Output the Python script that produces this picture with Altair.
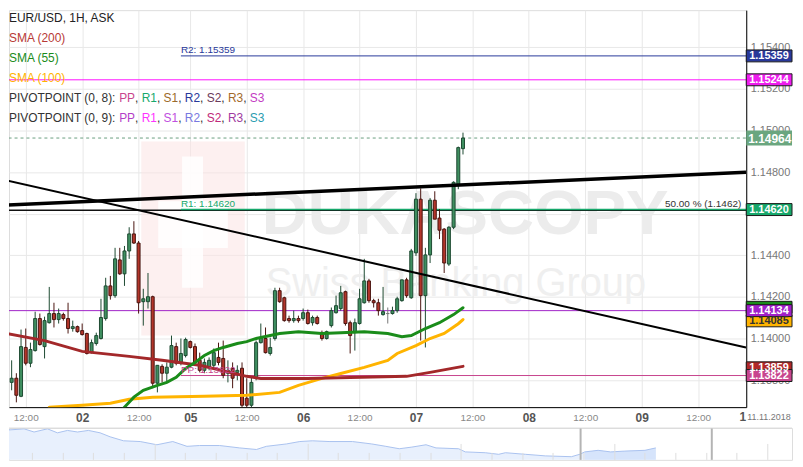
import altair as alt
import pandas as pd

# ---------------- data (trading-hour index: 0 = 01 Nov 12:00) ----------------
HOURS = list(range(-4, 94))
OPEN = [1.13655,1.13789,1.13809,1.13722,1.13957,1.13881,1.13942,1.14096,1.13961,1.14076,
        1.14120,1.14091,1.14115,1.14096,1.14048,1.14057,1.14038,1.14024,1.13932,1.13976,
        1.14000,1.14096,1.14253,1.14206,1.14378,1.14311,1.14421,1.14503,1.14459,1.14177,
        1.14177,1.14201,1.13785,1.13866,1.13833,1.13862,1.13961,1.13885,1.13918,1.13985,
        1.13961,1.13895,1.13847,1.13862,1.13871,1.13909,1.13904,1.13833,1.13857,1.13837,
        1.13857,1.13713,1.13679,1.13809,1.13980,1.14000,1.13928,1.14000,1.14230,1.14196,
        1.14096,1.14086,1.14096,1.14096,1.14124,1.14076,1.14101,1.14028,1.14000,1.14062,
        1.14124,1.14144,1.14225,1.14076,1.14028,1.14072,1.14172,1.14277,1.14182,1.14172,
        1.14115,1.14120,1.14120,1.14134,1.14182,1.14282,1.14196,1.14412,1.14670,1.14206,
        1.14402,1.14665,1.14579,1.14526,1.14358,1.14535,1.14742,1.14913]
HIGH = [1.13809,1.13895,1.13833,1.14043,1.14048,1.13980,1.14129,1.14120,1.14105,1.14248,
        1.14172,1.14144,1.14124,1.14172,1.14086,1.14062,1.14072,1.14028,1.13995,1.14028,
        1.14191,1.14292,1.14301,1.14436,1.14436,1.14445,1.14535,1.14564,1.14469,1.14239,
        1.14315,1.14206,1.13871,1.13876,1.13885,1.14014,1.13980,1.14000,1.14004,1.13990,
        1.13976,1.13932,1.13904,1.13909,1.13952,1.13980,1.13990,1.13895,1.13885,1.13871,
        1.13885,1.13809,1.13813,1.13990,1.14072,1.14053,1.14004,1.14244,1.14244,1.14201,
        1.14110,1.14134,1.14110,1.14144,1.14139,1.14110,1.14110,1.14038,1.14038,1.14149,
        1.14206,1.14253,1.14230,1.14086,1.14096,1.14239,1.14383,1.14287,1.14191,1.14191,
        1.14248,1.14149,1.14153,1.14201,1.14282,1.14292,1.14431,1.14699,1.14722,1.14436,
        1.14675,1.14708,1.14622,1.14531,1.14540,1.14756,1.14923,1.14990]
LOW = [1.13631,1.13751,1.13693,1.13718,1.13871,1.13862,1.13937,1.13966,1.13904,1.14072,
       1.14053,1.14072,1.14086,1.14024,1.14033,1.14028,1.14014,1.13923,1.13928,1.13966,
       1.13995,1.14086,1.14187,1.14196,1.14306,1.14253,1.14383,1.14455,1.14120,1.14062,
       1.14144,1.13761,1.13741,1.13789,1.13794,1.13857,1.13871,1.13871,1.13909,1.13952,
       1.13871,1.13837,1.13833,1.13847,1.13857,1.13871,1.13809,1.13789,1.13761,1.13799,
       1.13655,1.13665,1.13665,1.13799,1.13976,1.13928,1.13918,1.13990,1.14172,1.14081,
       1.14076,1.14076,1.14076,1.14086,1.14067,1.14062,1.14067,1.13990,1.13995,1.14053,
       1.14120,1.14134,1.14062,1.13928,1.13942,1.14067,1.14168,1.14172,1.14149,1.14110,
       1.14110,1.14072,1.14115,1.14124,1.14177,1.14196,1.14191,1.14397,1.13990,1.13957,
       1.14363,1.14574,1.14478,1.14315,1.14349,1.14526,1.14718,1.14885]
CLOSE = [1.13789,1.13809,1.13727,1.13961,1.13881,1.13947,1.14096,1.13971,1.14086,1.14120,
         1.14091,1.14120,1.14096,1.14048,1.14057,1.14033,1.14019,1.13928,1.13980,1.14014,
         1.14101,1.14253,1.14206,1.14383,1.14311,1.14421,1.14503,1.14459,1.14172,1.14191,
         1.14201,1.13785,1.13871,1.13833,1.13862,1.13966,1.13881,1.13928,1.13995,1.13957,
         1.13885,1.13847,1.13885,1.13895,1.13932,1.13885,1.13823,1.13847,1.13809,1.13847,
         1.13679,1.13679,1.13789,1.13980,1.14004,1.13932,1.13957,1.14230,1.14177,1.14086,
         1.14086,1.14096,1.14086,1.14124,1.14072,1.14101,1.14072,1.14000,1.14033,1.14134,
         1.14158,1.14220,1.14072,1.14014,1.14076,1.14191,1.14277,1.14182,1.14172,1.14134,
         1.14129,1.14120,1.14134,1.14191,1.14282,1.14206,1.14421,1.14670,1.14206,1.14402,
         1.14665,1.14574,1.14521,1.14363,1.14535,1.14751,1.14918,1.14964]

SMA200_T = [-4, 4, 12, 22, 29, 37, 47, 50, 60, 69, 81, 86, 93]
SMA200_V = [1.14024, 1.13990, 1.13938, 1.13914, 1.13895, 1.13871, 1.13818, 1.13808,
            1.13808, 1.13813, 1.13818, 1.13837, 1.13866]
SMA55_T = [19, 21, 23, 25, 28, 30, 32, 34, 36, 38, 40, 42, 45, 47, 49, 54, 58, 63, 67,
           72, 77, 80, 82, 85, 88, 91, 93]
SMA55_V = [1.13620, 1.13670, 1.13718, 1.13751, 1.13775, 1.13789, 1.13813, 1.13856,
           1.13885, 1.13918, 1.13942, 1.13957, 1.13976, 1.13985, 1.14000, 1.14024,
           1.14033, 1.14024, 1.14028, 1.14033, 1.14024, 1.14009, 1.14014, 1.14048,
           1.14076, 1.14115, 1.14148]
SMA100_T = [5, 12, 18, 22, 27, 38, 47, 54, 58, 63, 67, 72, 77, 79, 83, 86, 89, 92, 93]
SMA100_V = [1.13670, 1.13679, 1.13689, 1.13708, 1.13717, 1.13722, 1.13727, 1.13741,
            1.13775, 1.13808, 1.13832, 1.13861, 1.13895, 1.13928, 1.13966, 1.14000,
            1.14024, 1.14071, 1.14091]

TREND_T = [-4.2, 153.2]
TREND_THICK = [1.14641, 1.14799]
TREND_THIN = [1.14761, 1.13957]

LEVEL_P = [1.15359, 1.15244, 1.14617, 1.14620, 1.14134, 1.13822]
LEVEL_START = [33, -10, -10, 33, -10, 33]
LEVEL_COLOR = ['#28389a', '#ff10ff', '#111111', '#17a86b', '#a024c8', '#c8458e']
LEVEL_WIDTH = [1, 1, 1.5, 1.5, 1, 1]
LAST_PRICE = 1.14964

PIV_TEXT = ['R2: 1.15359', 'R1: 1.14620', 'PP: 1.13822']
PIV_P = [1.15359, 1.14620, 1.13822]
PIV_T = [33, 33, 33]
PIV_COLOR = ['#28389a', '#17a86b', '#c8458e']
FIB_TEXT = '50.00 % (1.1462)'
FIB_P = 1.14617

BADGE_P = [1.15359, 1.15244, 1.14620, 1.14150, 1.14085, 1.14134, 1.13859, 1.13822]
BADGE_TEXT = ['1.15359', '1.15244', '1.14620', '', '1.14085', '1.14134', '1.13859', '1.13822']
BADGE_FILL = ['#28389a', '#ee1cee', '#17a86b', '#1a8c1a', '#ffb400', '#a020c8', '#b0282a', '#c8458e']
BADGE_TC = ['#ffffff', '#ffffff', '#ffffff', '#ffffff', '#333333', '#ffffff', '#ffffff', '#ffffff']

XTICKS = [0, 12, 24, 35, 47, 59, 71, 83, 95, 107, 119, 131, 143]
XLABELS = ['12:00', '02', '12:00', '05', '12:00', '06', '12:00', '07', '12:00', '08',
           '12:00', '09', '12:00']
DAY_TICKS = [12, 35, 59, 83, 107, 131]
YTICKS = [1.138, 1.140, 1.142, 1.144, 1.146, 1.148, 1.150, 1.152, 1.154]
Y_HIDDEN = [1.146]

NAV_T = [-698, -682, -670, -658, -642, -630, -618, -606, -593, -579, -567, -551, -531,
         -511, -492, -475, -460, -436, -412, -392, -380, -356, -340, -325, -305, -277,
         -254, -237, -221, -206, -189, -177, -150, -142, -118, -102, -94, -70, -46, -15,
         -5, 1, 17, 32, 49, 73, 86]
NAV_P = [1.1755, 1.1768, 1.1780, 1.1730, 1.1780, 1.1717, 1.1755, 1.1730, 1.1755, 1.1717,
         1.1654, 1.1591, 1.1579, 1.1528, 1.1579, 1.1503, 1.1516, 1.1516, 1.1478, 1.1453,
         1.1503, 1.1541, 1.1579, 1.1591, 1.1579, 1.1579, 1.1541, 1.1503, 1.1465, 1.1491,
         1.1528, 1.1478, 1.1465, 1.1415, 1.1402, 1.1377, 1.1402, 1.1377, 1.1352, 1.1339,
         1.1377, 1.1415, 1.1440, 1.1415, 1.1428, 1.1440, 1.1478]
NAV_TICKS = [-660, -623, -587, -550, -513, -477, -440, -403, -367, -330, -294, -257, -220,
             -183, -147, -110, -73, -37, 0, 37, 73, 110, 147, 183, 220]
NAV_TALL = [-513, -330, -147, 37, 220]
NAV_WINDOW = [-4, 153]

# ---------------- layout ----------------
W, H = 741, 399
BW = 46                      # badge width
FONT = 'Liberation Sans'
xs = alt.Scale(domain=[-2.505, 152.19], nice=False, zero=False)
ys = alt.Scale(domain=[1.13670, 1.15579], nice=False, zero=False)

label_expr = ' : '.join(f"datum.value == {v} ? '{l}'" for v, l in zip(XTICKS, XLABELS)) + " : ''"
day_test = 'indexof([' + ','.join(str(d) for d in DAY_TICKS) + '], datum.value) >= 0'
y_expr = ' || '.join(f'abs(datum.value - {v}) < 1e-7' for v in Y_HIDDEN) + " ? '' : format(datum.value, '.5f')"

xaxis = alt.Axis(values=XTICKS, labelExpr=label_expr, title=None, grid=True,
                 gridColor='#e8e8e8', ticks=False, domainColor='#000000', labelPadding=5,
                 labelOverlap=False, labelFlush=False,
                 labelFontSize={"condition": {"test": day_test, "value": 12}, "value": 10},
                 labelFontWeight={"condition": {"test": day_test, "value": "bold"}, "value": "normal"},
                 labelColor={"condition": {"test": day_test, "value": "#555555"}, "value": "#888888"})
yaxis = alt.Axis(orient='right', values=YTICKS, labelExpr=y_expr, title=None, grid=True,
                 gridColor='#e8e8e8', ticks=False, domainColor='#000000', labelColor='#777777',
                 labelFontSize=11, labelPadding=4, labelOverlap=False)


def X(f):
    return alt.X(f, type='quantitative', scale=xs, axis=xaxis)


def Y(f):
    return alt.Y(f, type='quantitative', scale=ys, axis=yaxis)


one = pd.DataFrame({'a': [0]})

# watermark
wm_rect = pd.DataFrame({
    'x': [133, 150, 174], 'x2': [237, 220, 195],
    'y': [132, 192, 147], 'y2': [327, 239, 279],
    'c': ['#fbe3e3', '#ffffff', '#ffffff'], 'o': [0.55, 0.85, 0.85]})
watermark_box = alt.Chart(wm_rect).mark_rect().encode(
    x=alt.X('x:Q', scale=None), x2='x2', y=alt.Y('y:Q', scale=None), y2='y2',
    fill=alt.Fill('c:N', scale=None), opacity=alt.Opacity('o:Q', scale=None))
wm_text = pd.DataFrame({'txt': ['DUKASCOPY', 'Swiss Banking Group'], 'x': [254, 258],
                        'y': [225, 287]})
watermark_t1 = alt.Chart(wm_text.iloc[[0]]).mark_text(
    align='left', baseline='alphabetic', fontSize=64, fontWeight='bold', color='#ececec',
    font=FONT).encode(x=alt.X('x:Q', scale=None), y=alt.Y('y:Q', scale=None), text='txt:N')
watermark_t2 = alt.Chart(wm_text.iloc[[1]]).mark_text(
    align='left', baseline='alphabetic', fontSize=40, color='#efefef',
    font=FONT).encode(x=alt.X('x:Q', scale=None), y=alt.Y('y:Q', scale=None), text='txt:N')

# pivot / level lines
lv = pd.DataFrame({'p': LEVEL_P, 's': LEVEL_START, 'e': [170] * len(LEVEL_P),
                   'c': LEVEL_COLOR, 'w': LEVEL_WIDTH})
levels = alt.Chart(lv).mark_rule(clip=True).encode(
    x=X('s'), x2='e', y=Y('p'), stroke=alt.Stroke('c:N', scale=None),
    strokeWidth=alt.StrokeWidth('w:Q', scale=None))
last = alt.Chart(pd.DataFrame({'p': [LAST_PRICE], 's': [-10], 'e': [170]})).mark_rule(
    clip=True, color='#6a9e80', strokeDash=[3, 3], strokeWidth=1).encode(
    x=X('s'), x2='e', y=Y('p'))

# candles
cdf = pd.DataFrame({'t': HOURS, 'o': OPEN, 'h': HIGH, 'l': LOW, 'c': CLOSE})
cdf['fill'] = ['#3f8f60' if c > o else ('#b3352a' if c < o else '#999999')
               for o, c in zip(OPEN, CLOSE)]
cdf['line'] = ['#1d4a31' if c > o else ('#4a140f' if c < o else '#777777')
               for o, c in zip(OPEN, CLOSE)]
wicks = alt.Chart(cdf).mark_rule(strokeWidth=1, clip=True).encode(
    x=X('t'), y=Y('l'), y2='h', stroke=alt.Stroke('line:N', scale=None))
bodies = alt.Chart(cdf).mark_bar(size=3, strokeWidth=1, clip=True).encode(
    x=X('t'), y=Y('o'), y2='c', fill=alt.Fill('fill:N', scale=None),
    stroke=alt.Stroke('line:N', scale=None))

# moving averages
sma = pd.concat([
    pd.DataFrame({'t': SMA100_T, 'p': SMA100_V, 's': 'SMA100', 'c': '#ffb400'}),
    pd.DataFrame({'t': SMA200_T, 'p': SMA200_V, 's': 'SMA200', 'c': '#a3282a'}),
    pd.DataFrame({'t': SMA55_T, 'p': SMA55_V, 's': 'SMA55', 'c': '#1a8c1a'}),
])
smas = alt.Chart(sma).mark_line(strokeWidth=3, clip=True, strokeCap='round').encode(
    x=X('t'), y=Y('p'), detail='s:N', stroke=alt.Stroke('c:N', scale=None))

# trend lines
tl = pd.DataFrame({'t': TREND_T * 2, 'p': TREND_THICK + TREND_THIN,
                   'id': ['a', 'a', 'b', 'b'], 'w': [3.5, 3.5, 2, 2]})
trends = alt.Chart(tl).mark_line(color='#000000', clip=True).encode(
    x=X('t'), y=Y('p'), detail='id:N', strokeWidth=alt.StrokeWidth('w:Q', scale=None))

# level labels
pl = pd.DataFrame({'t': PIV_T, 'p': PIV_P, 'txt': PIV_TEXT, 'c': PIV_COLOR})
piv_labels = alt.Chart(pl).mark_text(align='left', baseline='alphabetic', dy=-3, fontSize=10,
                                     font=FONT).encode(
    x=X('t'), y=Y('p'), text='txt:N', color=alt.Color('c:N', scale=None))
fib_label = alt.Chart(pd.DataFrame({'p': [FIB_P], 'txt': [FIB_TEXT]})).mark_text(
    align='right', baseline='alphabetic', dy=-3, fontSize=10, color='#333333', font=FONT).encode(
    x=alt.value(W - 5), y=Y('p'), text='txt:N')

# legend text (top-left)
ARIAL = {' ': 278, '(': 333, ')': 333, ',': 278, ':': 278, '/': 278, 'P': 667, 'I': 278,
         'V': 667, 'O': 778, 'T': 611, 'N': 722, 'R': 722, 'S': 667}
for d in '0123456789':
    ARIAL[d] = 556


def tw(s, size=12):
    return sum(ARIAL.get(ch, 600) for ch in s) * size / 1000.0


rows = [
    ('EUR/USD, 1H, ASK', 0, 12, '#222222'),
    ('SMA (200)', 0, 32, '#b83a36'),
    ('SMA (55)', 0, 52, '#1a8c1a'),
    ('SMA (100)', 0, 72, '#ffb400'),
]
piv_sets = [
    ('PIVOTPOINT (0, 8): ', 92, ['#c8458e', '#17a86b', '#9c6b2a', '#28389a', '#6b3b5b', '#a36a2a', '#c33cc3']),
    ('PIVOTPOINT (0, 9): ', 112, ['#b33fc8', '#ff33ff', '#c050e0', '#7878e0', '#c02a7a', '#a03ca0', '#2a9cb0']),
]
names = ['PP', 'R1', 'S1', 'R2', 'S2', 'R3', 'S3']
for head, yy, cols in piv_sets:
    x = 0.0
    rows.append((head.strip(), x, yy, '#333333'))
    x += tw(head)
    for i, (nm, col) in enumerate(zip(names, cols)):
        rows.append((nm, x, yy, col))
        x += tw(nm)
        if i < len(names) - 1:
            rows.append((',', x, yy, '#333333'))
            x += tw(', ')
leg = pd.DataFrame(rows, columns=['txt', 'x', 'y', 'c'])
legend = alt.Chart(leg).mark_text(align='left', baseline='alphabetic', fontSize=12,
                                  font=FONT).encode(
    x=alt.X('x:Q', scale=None), y=alt.Y('y:Q', scale=None), text='txt:N',
    color=alt.Color('c:N', scale=None))

# price badges on the right axis
half = BW / 2.0
bd = pd.DataFrame({'p': BADGE_P, 'txt': BADGE_TEXT, 'f': BADGE_FILL, 'tc': BADGE_TC})
RECT = f'M-1,-{6 / half:.4f}L1,-{6 / half:.4f}L1,{6 / half:.4f}L-1,{6 / half:.4f}Z'
RECT_BIG = f'M-1,-{7.5 / half:.4f}L1,-{7.5 / half:.4f}L1,{7.5 / half:.4f}L-1,{7.5 / half:.4f}Z'
badge_box = alt.Chart(bd).mark_point(shape=RECT, size=BW * BW, filled=True, opacity=1,
                                     stroke='#1a1a1a', strokeWidth=1).encode(
    x=alt.value(W + half), y=Y('p'), fill=alt.Fill('f:N', scale=None))
badge_txt = alt.Chart(bd).mark_text(align='left', baseline='middle', fontSize=11,
                                    fontWeight='bold', font=FONT, dy=0.5).encode(
    x=alt.value(W + 3), y=Y('p'), text='txt:N', color=alt.Color('tc:N', scale=None))
lastb = pd.DataFrame({'p': [LAST_PRICE], 'txt': ['1.14964']})
last_box = alt.Chart(lastb).mark_point(shape=RECT_BIG, size=BW * BW, filled=True, opacity=1,
                                       color='#6aa67f').encode(
    x=alt.value(W + half), y=Y('p'))
last_txt = alt.Chart(lastb).mark_text(align='left', baseline='middle', fontSize=12,
                                      fontWeight='bold', color='#ffffff', font=FONT, dy=0.5).encode(
    x=alt.value(W + 2), y=Y('p'), text='txt:N')

date_txt = alt.Chart(pd.DataFrame({'txt': ['11.11.2018']})).mark_text(
    align='left', baseline='top', fontSize=9, color='#777777', font=FONT).encode(
    x=alt.value(W + 1), y=alt.value(H + 6), text='txt:N')
cut_txt = alt.Chart(pd.DataFrame({'txt': ['1']})).mark_text(
    align='right', baseline='top', fontSize=12, fontWeight='bold', color='#555555',
    font=FONT).encode(x=alt.value(W), y=alt.value(H + 5), text='txt:N')

main = alt.layer(
    watermark_box, watermark_t1, watermark_t2, levels, last, wicks, bodies, smas, trends,
    piv_labels, fib_label, legend, badge_box, last_box, badge_txt, last_txt, date_txt, cut_txt
).properties(width=W, height=H)

# ---------------- navigator ----------------
NW, NH = W + BW, 32
nxs = alt.Scale(domain=[-688, 249], nice=False, zero=False)
nys = alt.Scale(domain=[1.1289, 1.1793], nice=False, zero=False)
nav = pd.DataFrame({'t': NAV_T, 'p': NAV_P})
nav_all = alt.Chart(nav).mark_area(color='#e8f0fd', clip=True).encode(
    x=alt.X('t:Q', scale=nxs, axis=None), y=alt.Y('p:Q', scale=nys, axis=None))
nav_sel = alt.Chart(nav[nav['t'] >= NAV_WINDOW[0]]).mark_area(color='#d6e4fb', clip=True).encode(
    x=alt.X('t:Q', scale=nxs, axis=None), y=alt.Y('p:Q', scale=nys, axis=None))
nav_line = alt.Chart(nav).mark_line(color='#a9c2ef', strokeWidth=1, clip=True).encode(
    x=alt.X('t:Q', scale=nxs, axis=None), y=alt.Y('p:Q', scale=nys, axis=None))
nt = pd.DataFrame({'t': NAV_TICKS})
nt['top'] = [16 if v in NAV_TALL else 25 for v in NAV_TICKS]
nav_ticks = alt.Chart(nt).mark_rule(color='#dedede', strokeWidth=1).encode(
    x=alt.X('t:Q', scale=nxs, axis=None), y=alt.Y('top:Q', scale=None), y2=alt.value(NH))
nav_win = alt.Chart(pd.DataFrame({'t': NAV_WINDOW})).mark_rule(color='#b4b4b4', strokeWidth=2).encode(
    x=alt.X('t:Q', scale=nxs, axis=None), y=alt.value(0), y2=alt.value(NH))
nav_top = alt.Chart(one).mark_rule(color='#dddddd', strokeWidth=1).encode(
    x=alt.value(0), x2=alt.value(NW), y=alt.value(0))
navigator = alt.layer(nav_all, nav_sel, nav_line, nav_ticks, nav_win, nav_top).properties(
    width=NW, height=NH)

chart = alt.vconcat(main, navigator, spacing=2).properties(
    padding={"left": 0, "top": 0, "right": 0, "bottom": 0}
).configure_view(stroke=None).configure(font=FONT, background='#ffffff')

chart.save("out.html", embed_options={"renderer": "svg", "actions": False})
